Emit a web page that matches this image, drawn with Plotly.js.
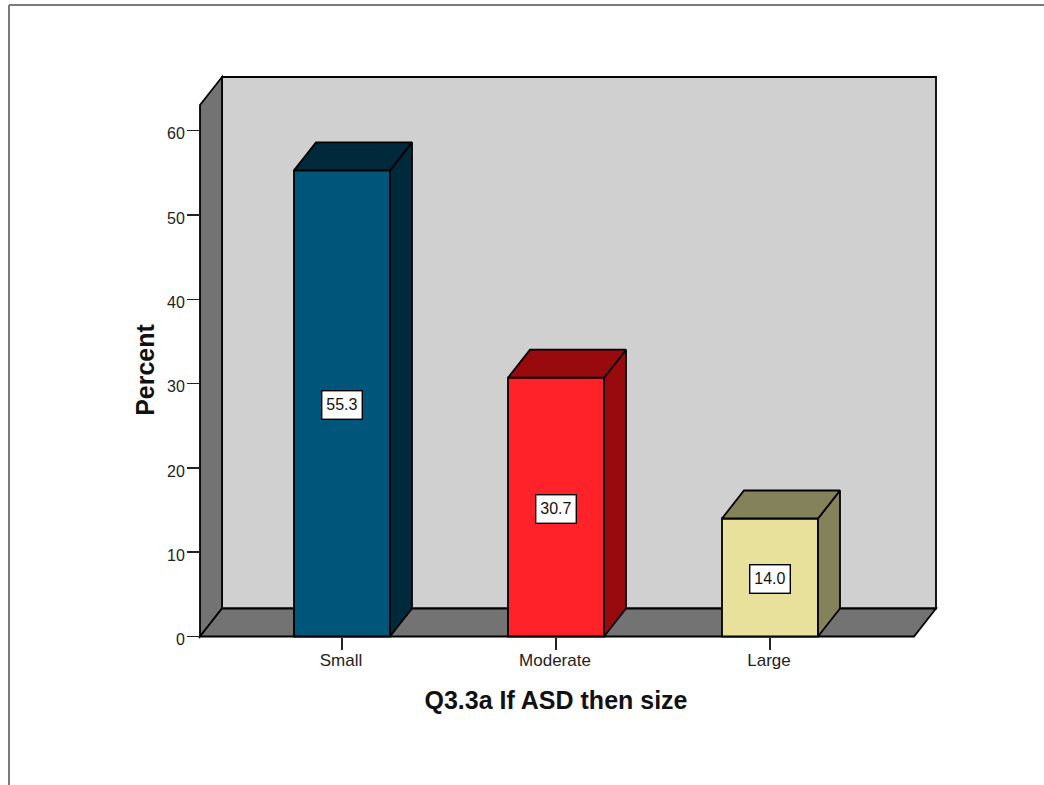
<!DOCTYPE html>
<html>
<head>
<meta charset="utf-8">
<script src="https://cdn.plot.ly/plotly-3.0.1.min.js"></script>
<style>html,body{margin:0;padding:0;background:#fff;overflow:hidden}#chart{width:1044px;height:785px}</style>
</head>
<body>
<div id="chart"></div>
<script>
const categories = ["Small", "Moderate", "Large"];
const percents = [55.3, 30.7, 14.0];
const frontColors = ["#00567a", "#ff2228", "#e8e19c"];
const darkColors = ["#002a3c", "#990a0e", "#84825a"];
const yTicks = [0, 10, 20, 30, 40, 50, 60];

const W = 1044, H = 785;
const pxPerCat = 214, pxPerUnit = 8.43;
const x0Px = 342, y0Px = 636.5;
const X = p => (p - x0Px) / pxPerCat;
const Y = p => (y0Px - p) / pxPerUnit;
const depthX = 22 / pxPerCat, depthY = 28 / pxPerUnit;
const barWidth = 96 / pxPerCat;
const floorLeft = X(200), floorRight = X(914), wallTop = Y(105);
const lineColor = "#000";

function pathOf(pts) {
  return "M" + pts.map(p => p[0] + "," + p[1]).join("L") + "Z";
}
function faceShape(pts, fill) {
  return {type: "path", xref: "x", yref: "y", layer: "below", path: pathOf(pts),
          fillcolor: fill, line: {color: lineColor, width: 1.8}};
}
const shapes = [
  faceShape([[floorLeft + depthX, depthY], [floorRight + depthX, depthY],
             [floorRight + depthX, wallTop + depthY], [floorLeft + depthX, wallTop + depthY]], "#d0d0d0"),
  faceShape([[floorLeft, 0], [floorLeft + depthX, depthY],
             [floorLeft + depthX, wallTop + depthY], [floorLeft, wallTop]], "#737373"),
  faceShape([[floorLeft, 0], [floorRight, 0],
             [floorRight + depthX, depthY], [floorLeft + depthX, depthY]], "#737373"),
  {type: "line", xref: "paper", yref: "paper", x0: 9 / W, x1: 9 / W, y0: 0, y1: 1 - 5 / H,
   line: {color: "#7a7a7a", width: 2}},
  {type: "line", xref: "paper", yref: "paper", x0: 9 / W, x1: 1, y0: 1 - 5 / H, y1: 1 - 5 / H,
   line: {color: "#7a7a7a", width: 2}}
];

const traces = [{
  type: "bar", x: [0, 1, 2], y: percents, width: barWidth,
  marker: {color: frontColors, line: {color: lineColor, width: 1.8}},
  hoverinfo: "skip", showlegend: false
}];
percents.forEach((v, i) => {
  const l = i - barWidth / 2, r = i + barWidth / 2;
  const polys = [
    [[r, 0], [r + depthX, depthY], [r + depthX, v + depthY], [r, v]],
    [[l, v], [r, v], [r + depthX, v + depthY], [l + depthX, v + depthY]]
  ];
  polys.forEach(poly => {
    const closed = poly.concat([poly[0]]);
    traces.push({
      type: "scatter", mode: "lines", fill: "toself",
      x: closed.map(p => p[0]), y: closed.map(p => p[1]),
      fillcolor: darkColors[i], line: {color: lineColor, width: 1.8},
      hoverinfo: "skip", showlegend: false
    });
  });
});

const annotations = percents.map((v, i) => ({
  x: i, y: v / 2, xref: "x", yref: "y", yshift: -1.5, xshift: -0.5, text: v.toFixed(1), showarrow: false,
  font: {family: "Liberation Sans", size: 16, color: "#111"},
  bgcolor: "#fff", bordercolor: "#000", borderwidth: 1.4, borderpad: 3,
  width: 33, height: 21
}));

const domLeft = 172, domRight = 940, domTop = 73, domBottom = 667;
const layout = {
  width: W, height: H, paper_bgcolor: "#fff", plot_bgcolor: "rgba(0,0,0,0)",
  margin: {l: 0, r: 0, t: 0, b: 0, autoexpand: false},
  showlegend: false, bargap: 0, shapes, annotations,
  xaxis: {
    domain: [domLeft / W, domRight / W], range: [X(domLeft), X(domRight)],
    anchor: "free", position: 1 - y0Px / H, side: "bottom",
    tickmode: "array", tickvals: [0, 1, 2], ticktext: categories,
    ticks: "outside", ticklen: 12, tickwidth: 1.5, tickcolor: "#222",
    ticklabelstandoff: -4, ticklabelshift: -1,
    tickfont: {family: "Liberation Sans", size: 17, color: "#222"},
    showgrid: false, zeroline: false, showline: false,
    title: {text: "Q3.3a If ASD then size", standoff: 22,
            font: {family: "Liberation Sans", size: 25, color: "#111", weight: "bold"}}
  },
  yaxis: {
    domain: [1 - domBottom / H, 1 - domTop / H], range: [Y(domBottom), Y(domTop)],
    anchor: "free", position: 200 / W, side: "left",
    tickmode: "array", tickvals: yTicks, ticktext: yTicks.map(String),
    ticks: "outside", ticklen: 13, tickwidth: 1.5, tickcolor: "#222",
    ticklabelstandoff: -1, ticklabelshift: 3,
    tickfont: {family: "Liberation Sans", size: 16, color: "#222"},
    showgrid: false, zeroline: false, showline: false,
    title: {text: "Percent", standoff: 4,
            font: {family: "Liberation Sans", size: 25, color: "#111", weight: "bold"}}
  }
};
Plotly.newPlot("chart", traces, layout, {displayModeBar: false, staticPlot: true});
</script>
</body>
</html>
